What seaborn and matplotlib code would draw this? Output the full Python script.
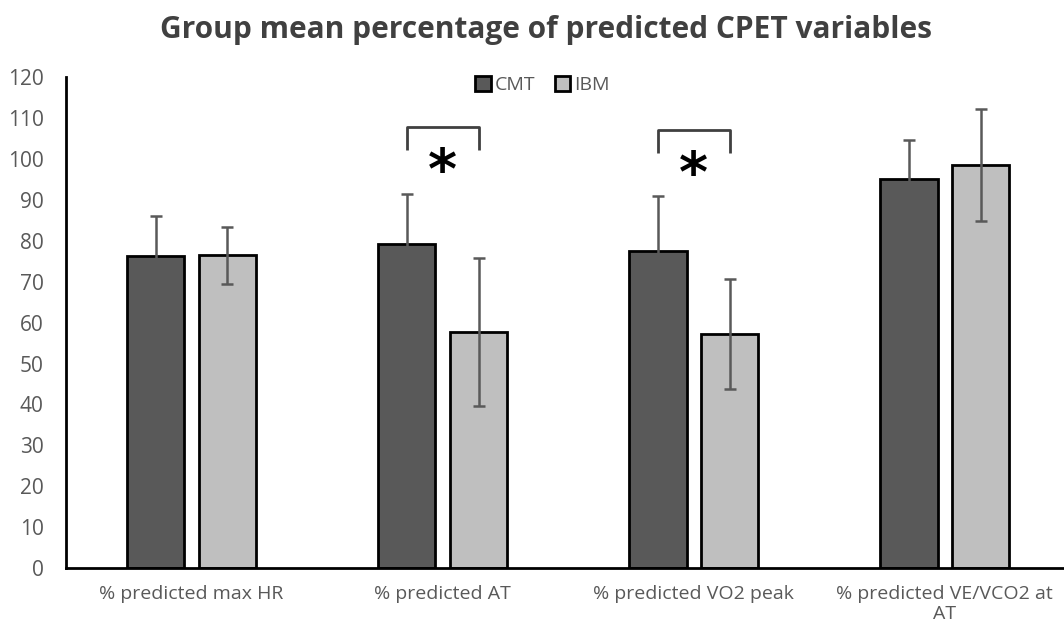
import numpy as np
import pandas as pd
import matplotlib
matplotlib.use("Agg")
import matplotlib.pyplot as plt
import seaborn as sns

# ── data ─────────────────────────────────────────────────────────────────────
variables = ["% predicted max HR", "% predicted AT", "% predicted VO2 peak",
             "% predicted VE/VCO2 at\nAT"]
groups    = ["CMT", "IBM"]
cmt_mean  = [76.3, 79.2, 77.5, 95.1]
cmt_sd    = [9.7, 12.3, 13.5, 9.5]
ibm_mean  = [76.5, 57.7, 57.2, 98.5]
ibm_sd    = [7.0, 18.0, 13.5, 13.7]
sig_pairs = [1, 2]          # categories with a significant difference

PALETTE = {"CMT": "#595959", "IBM": "#bfbfbf"}
TXT     = "#595959"

df = pd.DataFrame({
    "variable": variables * 2,
    "group":    ["CMT"] * 4 + ["IBM"] * 4,
    "mean":     cmt_mean + ibm_mean,
    "sd":       cmt_sd + ibm_sd,
})

sns.set_theme(style="white")
plt.rcParams["font.family"] = ["Open Sans", "DejaVu Sans"]

fig = plt.figure(figsize=(10.64, 6.33), dpi=100)
ax = fig.add_axes([0.062, 0.1027, 0.944, 0.7753])

sns.barplot(data=df, x="variable", y="mean", hue="group", order=variables,
            hue_order=groups, palette=PALETTE, width=0.572, gap=0.2,
            errorbar=None, edgecolor="black", linewidth=2, ax=ax)

# error bars on top of each bar (from the same table)
for cont, g in zip(ax.containers, groups):
    sub = df[df["group"] == g].set_index("variable").loc[variables]
    xs = [b.get_x() + b.get_width() / 2 for b in cont]
    ax.errorbar(xs, sub["mean"], yerr=sub["sd"], fmt="none", ecolor=TXT,
                elinewidth=1.8, capsize=4.5, capthick=1.8, zorder=5)

# significance brackets
cont0 = ax.containers[0]
cont1 = ax.containers[1]
for i, (top, low) in zip(sig_pairs, [(107.8, 102.2), (107.1, 101.5)]):
    x0 = cont0[i].get_x() + cont0[i].get_width() / 2
    x1 = cont1[i].get_x() + cont1[i].get_width() / 2
    ax.plot([x0, x0, x1, x1], [low, top, top, low], color="#404040", lw=2,
            solid_capstyle="butt", zorder=6)
    ax.text((x0 + x1) / 2, top - 11.2, "*", ha="center", va="center",
            fontsize=40, fontweight="bold", color="black",
            family="DejaVu Sans")

ax.set_ylim(0, 120)
ax.set_xlim(-0.5, 3.5)
ax.set_yticks(range(0, 121, 10))
ax.set_xlabel("")
ax.set_ylabel("")
ax.tick_params(axis="y", length=0, pad=16, labelsize=15, labelcolor=TXT)
ax.tick_params(axis="x", length=0, pad=12, labelsize=14, labelcolor=TXT)
sns.despine(ax=ax, top=True, right=True)
for side in ["left", "bottom"]:
    ax.spines[side].set_color("black")
    ax.spines[side].set_linewidth(2)

ax.legend(loc="center", bbox_to_anchor=(0.51, 0.866),
          bbox_transform=fig.transFigure, ncol=2, frameon=False,
          handlelength=0.8, handleheight=0.8, handletextpad=0.2,
          columnspacing=1.0, fontsize=14, labelcolor=TXT)

fig.suptitle("Group mean percentage of predicted CPET variables",
             x=0.513, y=0.952, va="center", fontsize=21.5, fontweight="bold",
             color="#404040")

fig.savefig("out.png", dpi=100)
